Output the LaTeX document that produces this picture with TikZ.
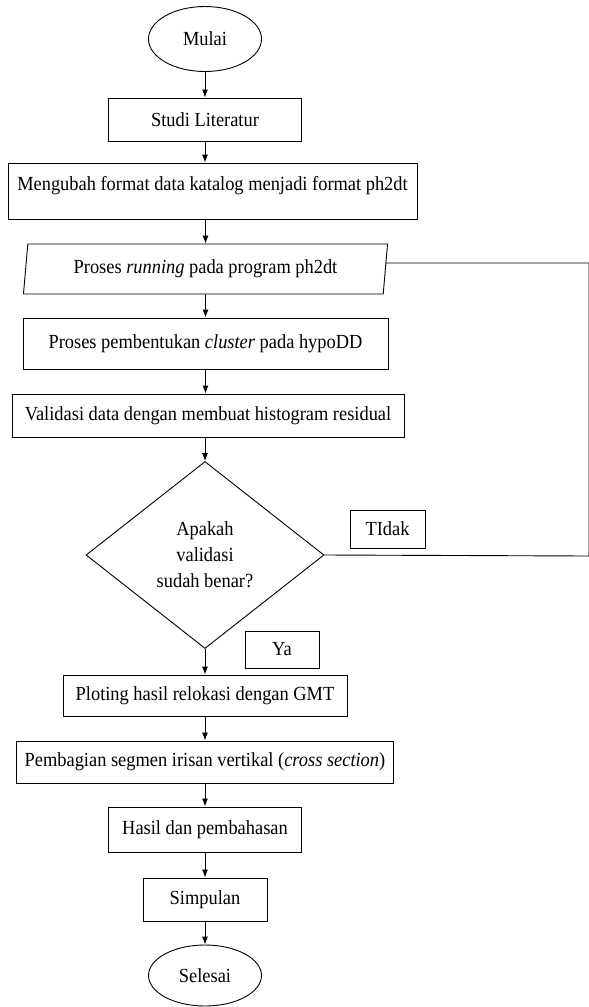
\documentclass[tikz,border=0pt]{standalone}
\usepackage{fontspec}
\setmainfont{Liberation Serif}[FakeStretch=0.92]
\usetikzlibrary{arrows.meta,shapes.geometric}

\begin{document}
\begin{tikzpicture}[x=1pt,y=-1pt,
  box/.style={draw,line width=0.9pt,inner sep=0pt,align=center,font=\fontsize{20}{26}\selectfont},
  term/.style={box,ellipse},
  io/.style={box,trapezium,trapezium left angle=80,trapezium right angle=100,trapezium stretches=true},
  dec/.style={box,diamond},
  arr/.style={-{Latex[length=8pt,width=6pt]},line width=0.9pt},
  link/.style={line width=0.9pt}
]
\useasboundingbox (0,0) rectangle (589,1007);
\node[term,minimum width=113pt,minimum height=65pt] (mulai) at (205,39) {Mulai};
\node[box,minimum width=193pt,minimum height=43pt] (lit) at (205,119.5) {Studi Literatur};
\node[box,minimum width=409pt,minimum height=56pt] (fmt) at (212.5,191) {Mengubah format data katalog menjadi format ph2dt\\[-10pt]\mbox{}};
\node[io,minimum width=365pt,minimum height=50pt] (run) at (205.5,269) {Proses \textit{running} pada program ph2dt};
\node[box,minimum width=365pt,minimum height=51pt] (clus) at (205.5,343.5) {Proses pembentukan \textit{cluster} pada hypoDD};
\node[box,minimum width=392pt,minimum height=43pt] (valid) at (208,415.5) {Validasi data dengan membuat histogram residual};
\node[dec,minimum width=238pt,minimum height=187pt] (cek) at (205,555) {Apakah\\validasi\\sudah benar?};
\node[box,minimum width=75pt,minimum height=38pt] (tidak) at (387.5,529) {TIdak};
\node[box,minimum width=74pt,minimum height=37pt] (ya) at (282,649.5) {Ya};
\node[box,minimum width=284pt,minimum height=41pt] (plot) at (205,695.5) {Ploting hasil relokasi dengan GMT};
\node[box,minimum width=377pt,minimum height=42pt] (irisan) at (205,762) {Pembagian segmen irisan vertikal (\textit{cross section})};
\node[box,minimum width=193pt,minimum height=45pt] (hasil) at (205,829.5) {Hasil dan pembahasan};
\node[box,minimum width=124pt,minimum height=43pt] (simp) at (205,899.5) {Simpulan};
\node[term,minimum width=113pt,minimum height=61pt] (selesai) at (205,975.5) {Selesai};
\coordinate (loopT) at (589,263);
\coordinate (loopB) at (589,556);
\draw[arr] (mulai) -- (lit);
\draw[arr] (lit) -- (lit |- fmt.north);
\draw[arr] (fmt.south -| run) -- (run);
\draw[arr] (run) -- (clus);
\draw[arr] (clus) -- (clus |- valid.north);
\draw[arr] (valid.south -| cek) -- (cek);
\draw[arr] (cek) -- (plot);
\draw[arr] (plot) -- (irisan);
\draw[arr] (irisan) -- (hasil);
\draw[arr] (hasil) -- (simp);
\draw[arr] (simp) -- (selesai);
\draw[link] (cek.east) -- (loopB) -- (loopT) -- (run.east |- loopT);
\end{tikzpicture}
\end{document}
